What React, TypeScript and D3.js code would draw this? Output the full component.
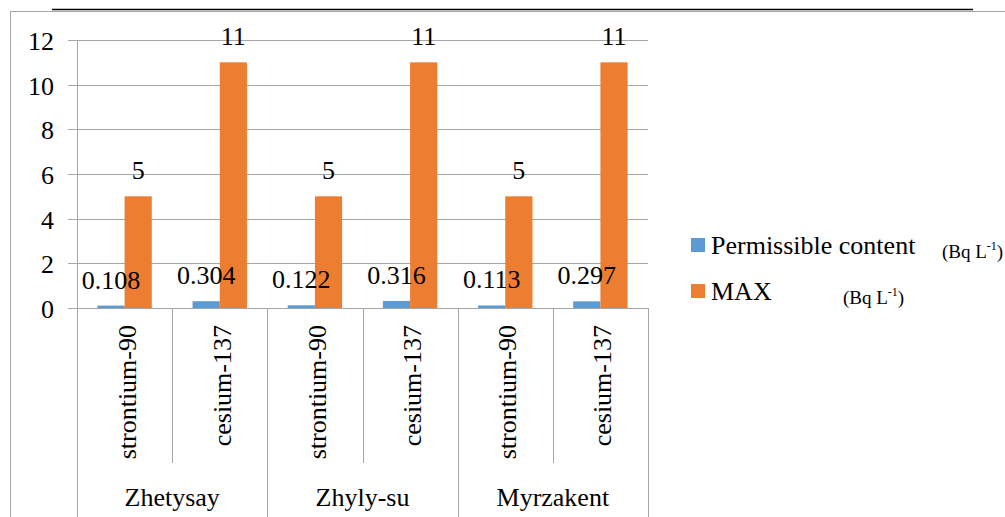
import { useEffect, useRef } from "react";
import * as d3 from "d3";

const groups = ["Zhetysay", "Zhyly-su", "Myrzakent"];
const isotopes = ["strontium-90", "cesium-137"];
const permissible = [0.108, 0.304, 0.122, 0.316, 0.113, 0.297];
const maxValues = [5, 11, 5, 11, 5, 11];
const yTicks = [0, 2, 4, 6, 8, 10, 12];
const seriesNames = ["Permissible content", "MAX"];
const seriesColors = ["#5B9BD5", "#ED7D31"];

const W = 1005;
const H = 517;
const FONT = "Liberation Serif, DejaVu Serif, Tinos, serif";

export default function App() {
  const ref = useRef<SVGSVGElement | null>(null);

  useEffect(() => {
    if (!ref.current) return;
    const svg = d3.select(ref.current);
    svg.selectAll("*").remove();

    const plotL = 77;
    const plotR = 648;
    const plotT = 40;
    const plotB = 308;

    // one slot per isotope in each site
    const cats = groups.flatMap((g) => isotopes.map((iso) => g + "|" + iso));
    const x = d3.scaleBand<string>().domain(cats).range([plotL, plotR]);
    const inner = d3
      .scaleBand<number>()
      .domain([0, 1])
      .range([0, x.bandwidth()])
      .paddingInner(0)
      .paddingOuter(0.75);
    const y = d3.scaleLinear().domain([0, 12]).range([plotB, plotT]);

    // outer frame
    svg
      .append("rect")
      .attr("x", 10.5)
      .attr("y", 11.5)
      .attr("width", 1100)
      .attr("height", 600)
      .attr("fill", "none")
      .attr("stroke", "#a6a6a6");
    svg
      .append("line")
      .attr("x1", 52)
      .attr("x2", 973)
      .attr("y1", 9.5)
      .attr("y2", 9.5)
      .attr("stroke", "#000")
      .attr("stroke-width", 1.5);

    // gridlines + y ticks
    const grid = svg.append("g");
    yTicks.forEach((t) => {
      const yy = Math.round(y(t)) + 0.5;
      grid
        .append("line")
        .attr("x1", plotL - 9)
        .attr("x2", plotR)
        .attr("y1", yy)
        .attr("y2", yy)
        .attr("stroke", "#a6a6a6");
      grid
        .append("text")
        .attr("x", 54)
        .attr("y", yy)
        .attr("dy", "0.35em")
        .attr("text-anchor", "end")
        .style("font-family", FONT)
        .attr("font-size", 26)
        .text(t);
    });
    // y axis line
    svg
      .append("line")
      .attr("x1", plotL + 0.5)
      .attr("x2", plotL + 0.5)
      .attr("y1", plotT)
      .attr("y2", plotB)
      .attr("stroke", "#a6a6a6");

    // bars
    const bars = svg.append("g");
    cats.forEach((c, i) => {
      [permissible[i], maxValues[i]].forEach((v, s) => {
        bars
          .append("rect")
          .attr("x", (x(c) as number) + (inner(s) as number))
          .attr("y", y(v))
          .attr("width", inner.bandwidth())
          .attr("height", plotB - y(v))
          .attr("fill", seriesColors[s]);
      });
    });

    // category separators
    const sep = svg.append("g").attr("stroke", "#a6a6a6");
    cats.forEach((c, i) => {
      const xx = Math.round(x(c) as number) + 0.5;
      sep
        .append("line")
        .attr("x1", xx)
        .attr("x2", xx)
        .attr("y1", plotB)
        .attr("y2", i % 2 === 0 ? 517 : 463);
    });
    sep
      .append("line")
      .attr("x1", plotR + 0.5)
      .attr("x2", plotR + 0.5)
      .attr("y1", plotB)
      .attr("y2", 517);

    // value labels
    const labels = svg
      .append("g")
      .style("font-family", FONT)
      .attr("font-size", 26)
      .attr("text-anchor", "middle");
    cats.forEach((c, i) => {
      [permissible[i], maxValues[i]].forEach((v, s) => {
        labels
          .append("text")
          .attr("x", (x(c) as number) + (inner(s) as number) + inner.bandwidth() / 2)
          .attr("y", y(v) - 17)
          .text(String(v));
      });
    });

    // isotope labels (rotated)
    cats.forEach((c) => {
      const cx = (x(c) as number) + x.bandwidth() / 2 + 11;
      svg
        .append("text")
        .attr("transform", `translate(${cx},325) rotate(-90)`)
        .attr("text-anchor", "end")
        .style("font-family", FONT)
        .attr("font-size", 26)
        .text(c.split("|")[1]);
    });

    // site labels
    groups.forEach((g, gi) => {
      const x0 = x(cats[gi * 2]) as number;
      const gx = x0 + x.bandwidth();
      svg
        .append("text")
        .attr("x", gx)
        .attr("y", 506)
        .attr("text-anchor", "middle")
        .style("font-family", FONT)
        .attr("font-size", 26)
        .text(g);
    });

    // legend
    const legend = svg.append("g").style("font-family", FONT);
    const unitX = [942, 843];
    seriesNames.forEach((name, s) => {
      const ly = 254 + s * 46;
      legend
        .append("rect")
        .attr("x", 691)
        .attr("y", ly - 16)
        .attr("width", 14)
        .attr("height", 14)
        .attr("fill", seriesColors[s]);
      legend
        .append("text")
        .attr("x", 711)
        .attr("y", ly)
        .attr("font-size", 26)
        .text(name);
      const unit = legend
        .append("text")
        .attr("x", unitX[s])
        .attr("y", ly + 4)
        .attr("font-size", 19);
      unit.append("tspan").text("(Bq L");
      unit
        .append("tspan")
        .attr("font-size", 12)
        .attr("dy", -8)
        .text("-1");
      unit.append("tspan").attr("dy", 8).text(")");
    });
  }, []);

  return (
    <svg
      ref={ref}
      width={W}
      height={H}
      style={{ position: "absolute", left: 0, top: 0, background: "#fff" }}
    />
  );
}
